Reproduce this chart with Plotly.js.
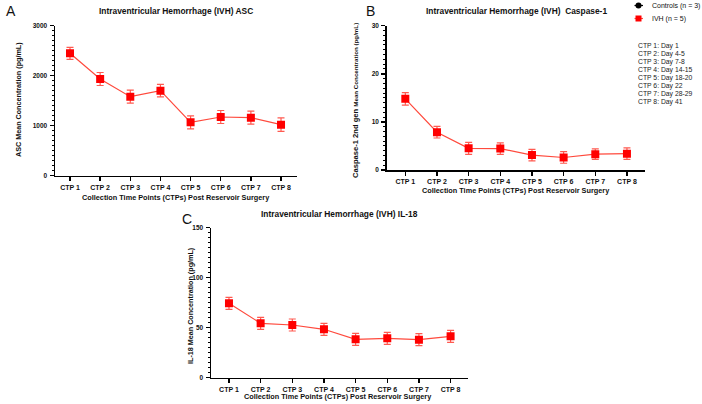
<!DOCTYPE html>
<html>
<head>
<meta charset="utf-8">
<script src="https://cdn.plot.ly/plotly-3.0.1.min.js"></script>
<style>html,body{margin:0;padding:0;background:#fff;}#chart{width:702px;height:404px;}</style>
</head>
<body>
<div id="chart"></div>
<script>
// ---- data ----
var categories = ["CTP 1", "CTP 2", "CTP 3", "CTP 4", "CTP 5", "CTP 6", "CTP 7", "CTP 8"];
var ascMean = [2448, 1934, 1580, 1700, 1068, 1174, 1160, 1020];
var ascErr = [120, 130, 130, 125, 130, 130, 130, 135];
var caspMean = [14.8, 7.85, 4.5, 4.45, 3.1, 2.6, 3.3, 3.4];
var caspErr = [1.3, 1.2, 1.25, 1.2, 1.2, 1.2, 1.1, 1.2];
var il18Mean = [74.4, 54.4, 52.7, 48.4, 38.4, 39.4, 38.0, 41.4];
var il18Err = [6, 6, 6, 6, 6, 6, 6, 6];
var ctpDays = ["CTP 1: Day 1", "CTP 2: Day 4-5", "CTP 3: Day 7-8", "CTP 4: Day 14-15",
               "CTP 5: Day 18-20", "CTP 6: Day 22", "CTP 7: Day 28-29", "CTP 8: Day 41"];
var legendLabels = ["Controls (n = 3)", "IVH (n = 5)"];

// ---- helpers ----
var W = 702, H = 404;
function px(x) { return x / W; }
function py(y) { return 1 - y / H; }
var FAM = "Liberation Sans, Arial, Helvetica, sans-serif";
var RED = "#ff0000", LINE_RED = "#ff4a3d", ERR_RED = "#ff5a50";

function series(y, err, xa, ya) {
  return {
    type: "scatter", mode: "lines+markers", x: categories, y: y,
    xaxis: xa, yaxis: ya, showlegend: false,
    line: {color: LINE_RED, width: 1.2},
    marker: {symbol: "square", size: 8, color: RED},
    error_y: {type: "data", array: err, visible: true, color: ERR_RED, thickness: 1.2, width: 3.5}
  };
}

var data = [
  series(ascMean, ascErr, "x", "y"),
  series(caspMean, caspErr, "x2", "y2"),
  series(il18Mean, il18Err, "x3", "y3")
];

var yTickFont = {family: FAM, size: 6.5, color: "#111", weight: "bold"};
var xTickFont = {family: FAM, size: 7, color: "#111", weight: "bold"};
function xAx(d0, d1, r0, r1, anchor) {
  return {
    domain: [px(d0), px(d1)], range: [r0, r1], anchor: anchor, type: "category",
    showline: true, linecolor: "#000", linewidth: 1.5, ticks: "outside", ticklen: 4,
    tickwidth: 1.5, tickcolor: "#000", showgrid: false, zeroline: false,
    tickfont: xTickFont, fixedrange: true
  };
}
function yAx(top, bottom, max, dtick, anchor) {
  return {
    domain: [py(bottom), py(top)], range: [0, max], anchor: anchor,
    tickmode: "linear", tick0: 0, dtick: dtick,
    showline: true, linecolor: "#000", linewidth: 1.5, ticks: "outside", ticklen: 4,
    tickwidth: 1.5, tickcolor: "#000", showgrid: false, zeroline: false,
    tickfont: yTickFont, ticklabelstandoff: 1,
    minor: {dtick: dtick / 10, ticks: "outside", ticklen: 2, tickwidth: 1, tickcolor: "#000", showgrid: false}
  };
}

var ann = [];
function txt(x, y, s, size, opts) {
  var a = {xref: "paper", yref: "paper", x: px(x), y: py(y), text: s, showarrow: false,
    font: {family: FAM, size: size, color: "#111", weight: "bold"}, xanchor: "center", yanchor: "middle"};
  for (var k in (opts || {})) a[k] = opts[k];
  return a;
}
// panel letters
ann.push(txt(11, 11, "A", 14, {font: {family: FAM, size: 14, color: "#111"}}));
ann.push(txt(370, 11, "B", 14, {font: {family: FAM, size: 14, color: "#111"}}));
ann.push(txt(187, 219, "C", 14, {font: {family: FAM, size: 14, color: "#111"}}));
// panel titles
ann.push(txt(176, 11, "Intraventricular Hemorrhage (IVH) ASC", 8.4));
ann.push(txt(516, 11, "Intraventricular Hemorrhage (IVH)  Caspase-1", 8.4));
ann.push(txt(339, 214, "Intraventricular Hemorrhage (IVH) IL-18", 8.4));
// x titles
var xt = "Collection Time Points (CTPs) Post Reservoir Surgery";
ann.push(txt(175.5, 197, xt, 7.3));
ann.push(txt(516, 190, xt, 7.3));
ann.push(txt(338, 396.5, xt, 7.3));
// y titles
ann.push(txt(18, 100, "ASC Mean Concentration (pg/mL)", 7.2, {textangle: -90}));
ann.push(txt(355, 101, "Caspase-1 2nd gen <span style='font-size:6.2px'>Mean Concentration (pg/mL)</span>", 7.6, {textangle: -90}));
ann.push(txt(190, 306, "IL-18 Mean Concentration (pg/mL)", 7.2, {textangle: -90}));
// CTP day list
for (var i = 0; i < ctpDays.length; i++) {
  ann.push(txt(636, 45.7 + i * 8, ctpDays[i], 6.8,
    {xanchor: "left", font: {family: FAM, size: 6.8, color: "#222"}}));
}
// legend text
ann.push(txt(650, 5.5, legendLabels[0], 7, {xanchor: "left", font: {family: FAM, size: 7, color: "#111"}}));
ann.push(txt(650, 18.5, legendLabels[1], 7, {xanchor: "left", font: {family: FAM, size: 7, color: "#111"}}));

var shapes = [
  {type: "line", xref: "paper", yref: "paper", x0: px(634.5), x1: px(643), y0: py(5.5), y1: py(5.5), line: {color: "#000", width: 1.2}},
  {type: "circle", xref: "paper", yref: "paper", x0: px(635.5), x1: px(641.5), y0: py(8.5), y1: py(2.5), fillcolor: "#000", line: {color: "#000", width: 0}},
  {type: "line", xref: "paper", yref: "paper", x0: px(634.5), x1: px(643), y0: py(18.5), y1: py(18.5), line: {color: LINE_RED, width: 1.2}},
  {type: "rect", xref: "paper", yref: "paper", x0: px(635.5), x1: px(641.5), y0: py(21.5), y1: py(15.5), fillcolor: RED, line: {color: RED, width: 0}}
];

var layout = {
  width: W, height: H, margin: {l: 0, r: 0, t: 0, b: 0},
  paper_bgcolor: "#fff", plot_bgcolor: "#fff", showlegend: false,
  font: {family: FAM},
  xaxis: xAx(55, 297, -0.4977, 7.53, "y"),
  yaxis: yAx(25.7, 175.7, 3000, 1000, "x"),
  xaxis2: xAx(386.7, 645, -0.588, 7.57, "y2"),
  yaxis2: yAx(25.7, 170, 30, 10, "x2"),
  xaxis3: xAx(211, 468, -0.568, 7.55, "y3"),
  yaxis3: yAx(227.7, 377.7, 150, 50, "x3"),
  annotations: ann, shapes: shapes
};

Plotly.newPlot("chart", data, layout, {displayModeBar: false, staticPlot: true});
</script>
</body>
</html>
